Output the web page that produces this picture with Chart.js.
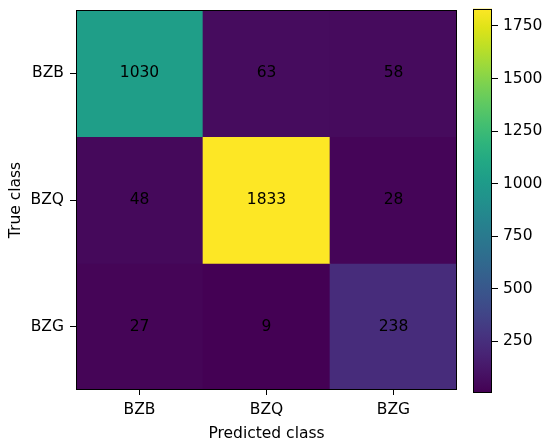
<!DOCTYPE html>
<html>
<head>
<meta charset="utf-8">
<script src="https://cdn.jsdelivr.net/npm/chart.js@4"></script>
<style>
html,body{margin:0;padding:0;background:#fff;}
#wrap{position:relative;width:550px;height:444px;}
#main{position:absolute;left:0;top:0;}
#cbar{position:absolute;left:473px;top:0;}
</style>
</head>
<body>
<div id="wrap">
<canvas id="main" width="550" height="444"></canvas>
<canvas id="cbar" width="77" height="444"></canvas>
</div>
<script>
const predictedLabels = ['BZB', 'BZQ', 'BZG'];
const trueLabels = ['BZB', 'BZQ', 'BZG'];
const rowBZB = [1030, 63, 58];
const rowBZQ = [48, 1833, 28];
const rowBZG = [27, 9, 238];
const colorbarTicks = [250, 500, 750, 1000, 1250, 1500, 1750];
const xTitle = 'Predicted class';
const yTitle = 'True class';

const matrix = [rowBZB, rowBZQ, rowBZG];
const allVals = matrix.flat();
const vmin = Math.min(...allVals);
const vmax = Math.max(...allVals);

const viridisStops = ['#440154','#471365','#482475','#463480','#414487','#3b528b','#355f8d','#2f6c8e','#2a788e','#25848e','#21918c','#1e9c89','#22a884','#2fb47c','#44bf70','#5ec962','#7ad151','#9bd93c','#bddf26','#dfe318','#fde725'];
function hexToRgb(h){return [parseInt(h.substr(1,2),16),parseInt(h.substr(3,2),16),parseInt(h.substr(5,2),16)];}
function viridis(t){
  t = Math.max(0, Math.min(1, t));
  const n = viridisStops.length - 1;
  const f = t * n;
  const i = Math.min(Math.floor(f), n - 1);
  const fr = f - i;
  const a = hexToRgb(viridisStops[i]), b = hexToRgb(viridisStops[i+1]);
  const c = a.map((v,k)=>Math.round(v + (b[k]-v)*fr));
  return 'rgb(' + c.join(',') + ')';
}
function colorFor(v){return viridis((v - vmin) / (vmax - vmin));}

const FONT = {family: "'DejaVu Sans', sans-serif", size: 15.5};
Chart.defaults.font.family = FONT.family;
Chart.defaults.color = '#000';

const datasets = matrix.map((row, i) => ({
  label: trueLabels[i],
  data: row.map(() => [i, i + 1]),
  backgroundColor: row.map(colorFor),
  borderWidth: 0,
  barPercentage: 1,
  categoryPercentage: 1,
  grouped: false
}));

const cellText = {
  id: 'cellText',
  afterDatasetsDraw(chart) {
    const ctx = chart.ctx;
    const xs = chart.scales.x, ys = chart.scales.y;
    ctx.save();
    ctx.font = FONT.size + 'px ' + FONT.family;
    ctx.fillStyle = '#000';
    ctx.textAlign = 'center';
    ctx.textBaseline = 'middle';
    matrix.forEach((row, i) => {
      row.forEach((v, j) => {
        ctx.fillText(String(v), xs.getPixelForValue(j), ys.getPixelForValue(i + 0.5));
      });
    });
    const a = chart.chartArea;
    ctx.strokeStyle = '#000';
    ctx.lineWidth = 1;
    ctx.strokeRect(Math.round(a.left) + 0.5, Math.round(a.top) + 0.5, Math.round(a.right - a.left) - 1, Math.round(a.bottom - a.top) - 1);
    ctx.restore();
  }
};

new Chart(document.getElementById('main'), {
  type: 'bar',
  data: {labels: predictedLabels, datasets},
  options: {
    responsive: false,
    animation: false,
    devicePixelRatio: 1,
    layout: {padding: {top: 10, right: 93, left: 0, bottom: 0}},
    plugins: {legend: {display: false}, tooltip: {enabled: false}},
    scales: {
      x: {
        type: 'category',
        offset: true,
        grid: {display: true, drawOnChartArea: false, offset: false, drawTicks: true, tickLength: 5, color: '#000', lineWidth: 1},
        border: {display: false},
        ticks: {font: FONT, color: '#000', padding: 6, maxRotation: 0},
        title: {display: true, text: xTitle, font: FONT, color: '#000', padding: {top: 0, bottom: 1}},
        afterFit(s){ s.height = 54; s.paddingLeft = 0; s.paddingRight = 0; }
      },
      y: {
        type: 'linear',
        min: 0, max: 3,
        reverse: true,
        grid: {display: true, drawOnChartArea: false, drawTicks: true, tickLength: 6, color: '#000', lineWidth: 1},
        border: {display: false},
        afterBuildTicks(s){ s.ticks = [0.5, 1.5, 2.5].map(v => ({value: v})); },
        ticks: {font: FONT, color: '#000', padding: 6, callback: (v) => trueLabels[Math.floor(v)]},
        title: {display: true, text: yTitle, font: FONT, color: '#000', padding: {top: 7, bottom: 0}},
        afterFit(s){ s.width = 76; s.paddingTop = 0; s.paddingBottom = 0; }
      }
    }
  },
  plugins: [cellText]
});

const cbBorder = {
  id: 'cbBorder',
  afterDatasetsDraw(chart) {
    const a = chart.chartArea, ctx = chart.ctx;
    ctx.save();
    ctx.strokeStyle = '#000';
    ctx.lineWidth = 1;
    ctx.strokeRect(Math.round(a.left) + 0.5, Math.round(a.top) + 0.5, Math.round(a.right - a.left) - 1, Math.round(a.bottom - a.top) - 1);
    ctx.restore();
  }
};

new Chart(document.getElementById('cbar'), {
  type: 'bar',
  data: {
    labels: [''],
    datasets: [{
      data: [[vmin, vmax]],
      barPercentage: 1,
      categoryPercentage: 1,
      borderWidth: 0,
      backgroundColor(ctx) {
        const chart = ctx.chart;
        const ys = chart.scales.y;
        if (!ys || !chart.chartArea) return '#888';
        const y0 = ys.getPixelForValue(vmin), y1 = ys.getPixelForValue(vmax);
        const g = chart.ctx.createLinearGradient(0, y0, 0, y1);
        viridisStops.forEach((c, k) => g.addColorStop(k / (viridisStops.length - 1), c));
        return g;
      }
    }]
  },
  options: {
    responsive: false,
    animation: false,
    devicePixelRatio: 1,
    layout: {padding: {top: 8.5, bottom: 52, left: 0, right: 0}},
    plugins: {legend: {display: false}, tooltip: {enabled: false}},
    scales: {
      x: {display: false},
      y: {
        position: 'right',
        min: vmin, max: vmax,
        afterBuildTicks(s){ s.ticks = colorbarTicks.map(v => ({value: v})); },
        grid: {display: true, drawOnChartArea: false, drawTicks: true, tickLength: 6, color: '#000'},
        border: {display: false},
        ticks: {font: FONT, color: '#000', padding: 5, callback: (v) => String(v)},
        afterFit(s){ s.width = 58; s.paddingTop = 0; s.paddingBottom = 0; }
      }
    }
  },
  plugins: [cbBorder]
});
</script>
</body>
</html>
